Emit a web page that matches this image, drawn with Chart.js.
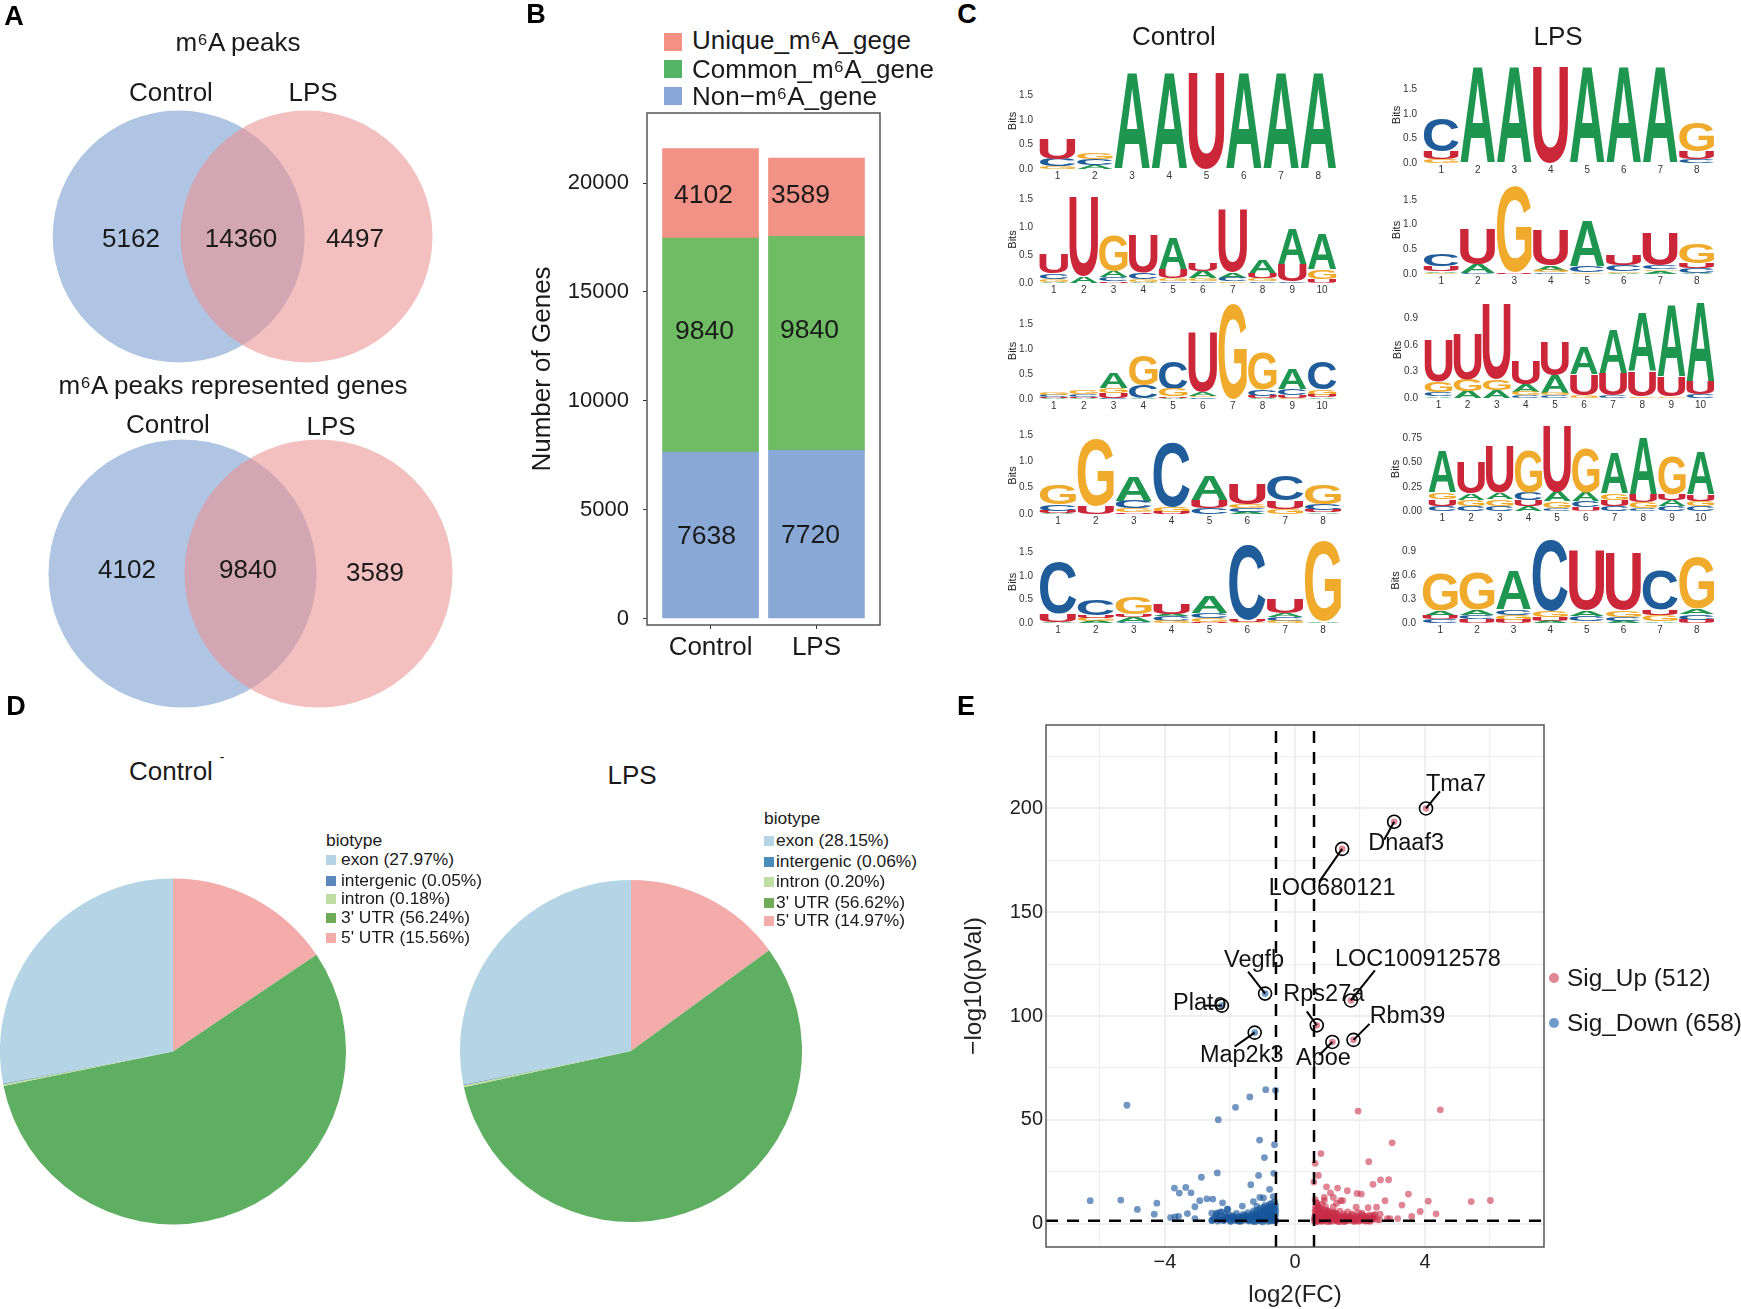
<!DOCTYPE html>
<html><head><meta charset="utf-8">
<style>
html,body{margin:0;padding:0;background:#fff;width:1741px;height:1309px;overflow:hidden;font-family:"Liberation Sans",Arial,sans-serif;color:#1a1a1a}
canvas{position:absolute}
.t{position:absolute;white-space:nowrap;transform:translate(-50%,-50%);line-height:1}
.l{position:absolute;white-space:nowrap;transform:translateY(-50%);line-height:1}
.s{position:absolute}
</style>
<script src="https://cdn.jsdelivr.net/npm/chart.js@4"></script>
</head><body>
<script>
/* ---------- Panel A ---------- */
const vennPeaks = [5162, 14360, 4497];
const vennGenes = [4102, 9840, 3589];
/* ---------- Panel B ---------- */
const barGroups = ["Control", "LPS"];
const barTicks = [0, 5000, 10000, 15000, 20000];
const nonGene = [7638, 7720];
const commonGene = [9840, 9840];
const uniqueGene = [4102, 3589];
/* ---------- Panel C: each position lists letters bottom to top with bits ---------- */
const logoCtrl1 = [[['G',.05],['C',.15],['U',.41]],[['A',.08],['C',.12],['G',.13]],[['A',1.95]],[['A',1.95]],[['U',1.95]],[['A',1.95]],[['A',1.95]],[['A',1.95]]];
const logoCtrl2 = [[['A',.02],['G',.05],['C',.1],['U',.35]],[['A',.12],['U',1.4]],[['U',.03],['C',.07],['A',.11],['G',.62]],[['A',.02],['G',.05],['C',.11],['U',.68]],[['C',.03],['G',.05],['U',.15],['A',.58]],[['C',.03],['G',.05],['A',.13],['U',.13]],[['G',.03],['C',.06],['A',.1],['U',1.1]],[['C',.03],['G',.05],['U',.08],['A',.25]],[['C',.03],['U',.3],['A',.62]],[['U',.07],['G',.17],['A',.61]]];
const logoCtrl3 = [[['A',.01],['U',.02],['C',.05],['G',.05]],[['A',.01],['U',.03],['C',.06],['G',.09]],[['C',.01],['U',.1],['G',.1],['A',.3]],[['A',.01],['C',.26],['G',.6]],[['A',.02],['U',.03],['G',.15],['C',.55]],[['C',.03],['G',.03],['A',.08],['U',1.2]],[['G',1.9]],[['A',.01],['U',.04],['C',.14],['G',.74]],[['G',.02],['U',.05],['C',.13],['A',.42]],[['A',.03],['U',.05],['G',.11],['C',.55]]];
const logoCtrl4 = [[['A',.02],['U',.04],['C',.12],['G',.38]],[['U',.15],['G',1.28]],[['U',.03],['G',.08],['C',.14],['A',.45]],[['U',.04],['G',.1],['C',1.22]],[['C',.12],['U',.15],['A',.45]],[['A',.04],['C',.07],['G',.08],['U',.38]],[['G',.1],['U',.15],['C',.47]],[['A',.03],['U',.04],['C',.12],['G',.36]]];
const logoCtrl5 = [[['A',.02],['U',.17],['C',1.1]],[['A',.04],['G',.07],['U',.05],['C',.33]],[['C',.03],['A',.1],['U',.05],['G',.37]],[['G',.04],['C',.1],['A',.05],['U',.22]],[['U',.02],['G',.08],['C',.1],['A',.34]],[['G',.02],['U',.05],['C',1.58]],[['G',.04],['C',.08],['A',.08],['U',.3]],[['A',.03],['G',1.7]]];
const logoLps1 = [[['G',.08],['U',.15],['C',.66]],[['A',1.95]],[['A',1.95]],[['U',1.95]],[['A',1.95]],[['A',1.95]],[['A',1.95]],[['C',.08],['U',.15],['G',.58]]];
const logoLps2 = [[['G',.03],['A',.03],['U',.1],['C',.25]],[['C',.02],['A',.18],['U',.72]],[['U',.03],['G',1.74]],[['C',.03],['G',.04],['A',.1],['U',.7]],[['G',.03],['C',.13],['A',.92]],[['A',.02],['G',.03],['C',.13],['U',.2]],[['A',.06],['G',.03],['C',.08],['U',.66]],[['A',.02],['C',.1],['U',.1],['G',.4]]];
const logoLps3 = [[['A',.02],['C',.05],['G',.12],['U',.47]],[['A',.08],['G',.13],['U',.52]],[['A',.09],['G',.12],['U',.86]],[['C',.03],['G',.04],['A',.08],['U',.27]],[['C',.03],['G',.03],['A',.2],['U',.38]],[['G',.03],['U',.24],['A',.3]],[['C',.03],['U',.25],['A',.49]],[['G',.02],['U',.28],['A',.66]],[['G',.02],['U',.22],['A',.81]],[['C',.04],['U',.15],['A',.89]]];
const logoLps4 = [[['C',.05],['U',.07],['G',.07],['A',.43]],[['C',.05],['G',.06],['A',.07],['U',.32]],[['C',.05],['G',.07],['A',.07],['U',.48]],[['A',.05],['U',.06],['C',.08],['G',.43]],[['C',.03],['G',.07],['A',.1],['U',.68]],[['U',.04],['C',.06],['A',.09],['G',.47]],[['C',.05],['U',.06],['G',.07],['A',.41]],[['C',.03],['G',.06],['U',.08],['A',.58]],[['C',.05],['A',.06],['U',.06],['G',.39]],[['C',.05],['G',.05],['U',.07],['A',.44]]];
const logoLps5 = [[['C',.05],['U',.04],['A',.07],['G',.47]],[['U',.05],['C',.05],['A',.07],['G',.47]],[['U',.04],['G',.06],['C',.07],['A',.49]],[['A',.03],['U',.04],['G',.08],['C',.9]],[['G',.02],['C',.07],['A',.07],['U',.75]],[['A',.03],['C',.05],['G',.08],['U',.71]],[['A',.02],['G',.08],['U',.07],['C',.5]],[['U',.04],['C',.07],['A',.07],['G',.64]]];
const logoTicks05 = [0, .5, 1, 1.5];
const logoTicks03 = [0, .3, .6, .9];
const logoTicks25 = [0, .25, .5, .75];
/* ---------- Panel D ---------- */
const pieOrder = ["5' UTR", "3' UTR", "intron", "intergenic", "exon"];
const pieControl = [15.56, 56.24, 0.18, 0.05, 27.97];
const pieLps = [14.97, 56.62, 0.20, 0.06, 28.15];
/* ---------- Panel E ---------- */
const volUpX = [1.94,4.47,2.99,2.27,.8,.62,.72,.58,.97,1.31,1.61,1.09,1.91,2.04,2.4,2.63,2.88,1.18,.9,3.49,2.77,4.1,5.42,6.01,3.29,3.85,4.34,3.59,3.16,2.92,2.84,2.51,2.25,1.88,1.4,1.47,1.28,1.18,.9,.62,.67,2.62,2.43,2.6,
.6,.61,.62,.63,.64,.65,.66,.67,.68,.7,.71,.73,.74,.76,.77,.79,.8,.82,.83,.85,.87,.88,.9,.92,.94,.96,.98,1,1.02,1.04,1.07,1.1,1.13,1.16,1.19,1.22,1.25,1.28,1.31,1.35,1.38,1.42,1.46,1.5,1.54,1.58,1.62,1.66,1.7,1.74,1.78,1.82,1.86,1.9,1.94,1.98,2.02,2.06,2.1,2.14,2.18,2.22,2.28,2.34,2.4,2.46,2.52,
.6,.63,.66,.7,.74,.78,.83,.88,.93,.99,1.05,1.11,1.17,1.24,1.3,1.37,1.44,1.52,1.6,1.68,1.76,1.84,1.92,2,2.08,2.16,2.24,2.32,2.42,
.62,.69,.75,.81,.86,.95,1.01,1.08,1.15,1.21,1.27,1.34,1.41,1.49,1.56,1.64,1.72,1.8,1.88,1.96,2.04,2.12,2.2,2.3,2.38,.64,.72,.8,.91,1.03,1.14,1.26,1.39,1.53,1.67];
const volUpY = [54.2,54.8,38.9,29.8,33.7,29,23.2,20,17.7,17.1,15.8,14.8,14.5,14.2,18.9,21,21.1,12.6,12.6,14.2,11,10.8,10.6,11.1,8.9,5.8,4.7,3.4,2.4,2.3,2.3,7.9,7.6,7.9,11,11,9.8,8,11,11.5,9.8,4.5,3.9,1.8,
1.2,3.4,5.8,8.2,2.2,10.1,4.4,1,6.7,3,8.6,1.7,5,2.5,7.2,3.8,1.1,9.2,5.6,2.4,4.2,6.6,1.5,3.1,8,2.2,5,.9,3.6,6,1.9,4.4,2.8,1.2,3.4,5.2,2.1,3.9,1,2.6,6,1.7,3.3,4.7,1.3,2.4,5.6,3.1,1.6,4,2.3,1,3.3,2,5.2,1.4,3,5,1.9,3.6,1.2,2.7,4,1.6,3.1,4.4,1.9,
2.1,4.6,.8,3.5,6.1,1.4,3.2,5.1,2.3,4.1,1.4,2.9,5.4,1.8,4.2,.9,2.4,3.6,1.3,2.8,4.6,1.5,3.4,2.2,4.2,2.6,1.5,3.6,2.4,
2.7,1.4,4.9,2.9,1.2,6.4,3.7,1.1,4.9,2.4,1.5,3.3,2.1,1,3.5,1.8,2.9,1.3,2.5,1.1,2.2,1.3,2.8,1.1,2.1,6.8,7.9,4.3,3.1,5.7,3.3,4.9,3.1,1.1,2];
const volDownX = [-6.3,-5.36,-5.17,-4.85,-4.33,-4.25,-3.83,-3.71,-3.56,-3.36,-3.2,-3.69,-3.58,-3.31,-3.08,-3.08,-2.93,-2.88,-2.71,-2.53,-2.39,-2.36,-2.23,-1.83,-1.39,-.9,-.6,-1.09,-.63,-.94,-1.12,-.65,-1.36,-.78,-1.62,-2.07,-1.28,-1.08,-.97,-.67,-2.56,-2.4,-2.3,-2.56,
-2.5,-2.42,-2.38,-2.3,-2.25,-2.18,-2.12,-2.08,-2.03,-1.98,-1.94,-1.9,-1.84,-1.8,-1.76,-1.71,-1.68,-1.63,-1.6,-1.56,-1.52,-1.48,-1.45,-1.41,-1.38,-1.34,-1.31,-1.28,-1.25,-1.22,-1.19,-1.16,-1.13,-1.1,-1.08,-1.05,-1.03,-1,-.98,-.96,-.94,-.92,-.9,-.88,-.86,-.84,-.82,-.8,-.78,-.76,-.74,-.72,-.71,-.69,-.68,-.66,-.65,-.63,-.62,-.61,-.6,-.59,-.59,-.6,
-.65,-.7,-.75,-.8,-.85,-.9,-.95,-1,-1.05,-1.1,-1.15,-1.2,-1.26,-1.32,-1.4,-1.47,-1.55,-1.65,-1.75,-1.85,-1.95,-2.05,-2.15,-2.22,-2.32,-2.45,-2.55,
-.62,-.67,-.72,-.77,-.83,-.87,-.93,-.99,-1.04,-1.09,-1.14,-1.18,-1.23,-1.29,-1.36,-1.43,-1.5,-1.58,-1.67,-1.78,-1.88,-1.99,-2.1,-2.2,-2.35,-.64,-.73,-.81,-.89,-.97,-1.07,-1.17,-1.3,-1.44,-1.61,-1.73,-1.92,-2.14];
const volDownY = [11,11.3,57,6.8,4.5,9.8,2.9,17.1,14.7,17.4,14.8,3.2,3.5,4.8,8.1,2.4,11,22.3,11.9,11.8,24.4,50,10,56,61,64.5,64.2,40.2,38,31.8,23.2,24.2,18.7,16.5,8.4,6.9,10.6,12.6,12.3,13,5,5,5.5,1.5,
2.2,4.6,1.2,3.4,5.6,1.7,3.1,6.9,4.3,1.1,2.6,3.8,1.5,4.9,2.1,3.2,1,2.7,4.4,1.6,3.5,2.2,5.2,1.2,2.9,4.1,1.8,6.1,3.3,.9,2.4,5,1.4,3.7,7.2,2.1,4.6,.8,3,6,1.7,8.8,3.9,2.3,5.4,1.1,7.1,3.2,9.2,1.9,4.8,2.7,6.6,1.3,8.1,3.6,5.3,10.4,2.2,7.4,4.2,1.5,6,8.9,
2.8,3.7,6.9,5.1,3.4,6.5,4.4,2.4,6.2,1.9,3.2,4.4,1.5,3,2.8,3.9,2.7,1.9,3.2,2.4,3.3,2.2,4.5,2.5,1.9,3.2,1.5,
1.4,3.1,5.6,1.2,4.1,2.7,5.3,3.6,1.5,4.7,2.5,6.3,3.4,1.1,2.4,1.6,2.3,3.7,1.4,1.5,2.8,1.2,3.1,1.4,2.2,6.9,9.7,8.2,7.5,7.9,3.1,8.3,4.8,1.9,2.9,1.2,1.8,2.4];
const hlGenes = ["Tma7","Dnaaf3","LOC680121","Vegfb","Plato","LOC100912578","Rps27a","Rbm39","Apoe","Map2k3"];
const hlX = [4.03,3.05,1.45,-.92,-2.25,1.72,.67,1.8,1.15,-1.24];
const hlY = [200,193.6,180.5,110.8,105,107.5,95.5,88.5,87.5,92];
const volXTicks = [-6,-4,-2,0,2,4,6];
const volXLabels = [-4,0,4];
const volYTicks = [0,25,50,75,100,125,150,175,200,225];
const volYLabels = [0,50,100,150,200];

/* ---------- Layout / style (not data) ---------- */
const hlOffsets = [[30,-23.5,14,-17],[12,22,-10,18],[-10,40,-23,33],[-11,-33,-17,-22],[-22,-2,-18,0],[67,-41,24,-30],[7,-31,-10,-14],[54,-23,16,-16],[-9,17,-13,13],[-13,23,-20,14]];
const LETTER = {A:'#1F9650',C:'#1F5C99',G:'#F0AB2D',U:'#CC2739'};
const FONT = '"Liberation Sans", Arial, sans-serif';
Chart.defaults.animation = false;
Chart.defaults.font.family = FONT;
Chart.defaults.devicePixelRatio = 1;
Chart.defaults.plugins.legend.display = false;
Chart.defaults.plugins.tooltip.enabled = false;
Chart.defaults.events = [];
Chart.defaults.responsive = false;

const M = 40;
function place(area, W, H, cfg){
  const c = document.createElement('canvas');
  c.style.left = (area.l - W) + 'px';
  c.style.top = (area.t - M) + 'px';
  c.width = W + area.r - area.l + M;
  c.height = M + area.b - area.t + H;
  document.body.appendChild(c);
  cfg.options = cfg.options || {};
  cfg.options.maintainAspectRatio = false;
  cfg.options.layout = {padding:{top:M,right:M,left:0,bottom:0}};
  const sc = cfg.options.scales;
  if (sc) { sc.x.afterFit = s => { s.height = H; }; sc.y.afterFit = s => { s.width = W; }; }
  return new Chart(c.getContext('2d'), cfg);
}
function T(txt,x,y,size,extra){
  const d = document.createElement('div'); d.className='t'; d.textContent=txt;
  d.style.left=x+'px'; d.style.top=y+'px'; d.style.fontSize=size+'px';
  if(extra) Object.assign(d.style,extra);
  document.body.appendChild(d); return d;
}
function L(txt,x,y,size,extra){ const d=T(txt,x,y,size,extra); d.className='l'; return d; }
function S(x,y,w,h,col,round){
  const d=document.createElement('div'); d.className='s';
  Object.assign(d.style,{left:x+'px',top:y+'px',width:w+'px',height:h+'px',background:col,borderRadius:round?'50%':'0'});
  document.body.appendChild(d);
}
const frame = color => ({id:'frame',afterDraw(ch){const a=ch.chartArea,c=ch.ctx;c.save();c.strokeStyle=color;c.lineWidth=1.5;c.strokeRect(a.left,a.top,a.right-a.left,a.bottom-a.top);c.restore();}});

/* ---------- Panel A: Venn (scale units are page pixels) ---------- */
function venn(area, cx1, cx2, cy, r){
  const ch = place(area,0,0,{type:'bubble',
    data:{datasets:[
      {data:[{x:cx2,y:cy,r}],backgroundColor:'rgba(235,144,144,.58)',borderWidth:0},
      {data:[{x:cx1,y:cy,r}],backgroundColor:'#B0C5E3',borderWidth:0}
    ]},
    options:{clip:false,scales:{
      x:{type:'linear',display:false,min:0,max:1},
      y:{type:'linear',display:false,min:0,max:1,reverse:true}}}
  });
  const a = ch.chartArea, top = area.t - M;
  ch.options.scales.x.min = a.left + area.l; ch.options.scales.x.max = a.right + area.l;
  ch.options.scales.y.min = a.top + top; ch.options.scales.y.max = a.bottom + top;
  ch.update();
}
venn({l:0,t:60,r:500,b:400},178.7,306.5,236.5,126);
venn({l:0,t:400,r:500,b:740},182.5,318.5,573.5,134);
T('m⁶A peaks',238,42,26); T('Control',171,92,26); T('LPS',313,92,26);
T(vennPeaks[0],131,238,26); T(vennPeaks[1],241,238,26); T(vennPeaks[2],355,238,26);
T('m⁶A peaks represented genes',233,385,26); T('Control',168,424,26); T('LPS',331,426,26);
T(vennGenes[0],127,568.5,26); T(vennGenes[1],248,568.5,26); T(vennGenes[2],375,572,26);

/* ---------- Panel B: stacked bar ---------- */
const pairs = arr => arr.map((v,i)=>({x:i+1,y:v}));
const barLabels = {id:'barLabels',afterDatasetsDraw(ch){
  const c=ch.ctx; c.save(); c.font='26.5px '+FONT; c.fillStyle='#1a1a1a'; c.textAlign='center'; c.textBaseline='middle';
  const dx=[[-4,-6],[-6,-7],[-7,-16]], dy=[[2,1],[-13,-13],[2,-1]];
  ch.data.datasets.forEach((ds,k)=>{ch.getDatasetMeta(k).data.forEach((el,i)=>{
    c.fillText(String(ds.data[i].y), el.x+dx[k][i], (el.y+el.base)/2+dy[k][i]);});});
  c.restore();
}};
place({l:647,t:113,r:880,b:625},120,50,{type:'bar',
  data:{datasets:[
    {label:'Non-m⁶A_gene',data:pairs(nonGene),backgroundColor:'#8AA8D5',barThickness:96},
    {label:'Common_m⁶A_gene',data:pairs(commonGene),backgroundColor:'#6FBC64',barThickness:96},
    {label:'Unique_m⁶A_gege',data:pairs(uniqueGene),backgroundColor:'#F29185',barThickness:96}
  ]},
  options:{scales:{
    x:{type:'linear',stacked:true,offset:false,min:.4,max:2.6,afterBuildTicks:s=>{s.ticks=[1,2].map(value=>({value}));},
       ticks:{callback:v=>barGroups[v-1],font:{size:26},color:'#1a1a1a',padding:3,maxRotation:0},
       grid:{offset:false,drawOnChartArea:false,tickLength:4,tickColor:'#333'},border:{display:false}},
    y:{stacked:true,min:-300,max:23220,afterBuildTicks:s=>{s.ticks=barTicks.map(value=>({value}));},
       ticks:{font:{size:22},color:'#1a1a1a',padding:14,callback:v=>String(v)},
       grid:{drawOnChartArea:false,tickLength:4,tickColor:'#333'},border:{display:false},
       title:{display:true,text:'Number of Genes',font:{size:26},color:'#1a1a1a',padding:0}}
  }},
  plugins:[frame('#555'),barLabels]
});
S(664,33,18,18,'#F39185'); S(664,60,18,18,'#55B566'); S(664,87,18,18,'#87A8D6');
L('Unique_m⁶A_gege',692,40,26); L('Common_m⁶A_gene',692,69,26); L('Non−m⁶A_gene',692,96,26);

/* ---------- Panel C: sequence logos ---------- */
const glyphs = {id:'glyphs',afterDatasetsDraw(ch){
  const c=ch.ctx; c.save();
  ch.data.datasets.forEach((ds,k)=>{
    ch.getDatasetMeta(k).data.forEach(el=>{
      if(el.skip) return;
      const top=Math.min(el.y,el.base), h=Math.abs(el.base-el.y), w=el.width;
      if(!(h>0)) return;
      c.save();
      c.font='bold 200px '+FONT; c.textBaseline='alphabetic'; c.textAlign='left'; c.fillStyle=LETTER[ds.label];
      const m=c.measureText(ds.label);
      const gw=m.actualBoundingBoxLeft+m.actualBoundingBoxRight, gh=m.actualBoundingBoxAscent+m.actualBoundingBoxDescent;
      c.translate(el.x-w/2,top); c.scale(w/gw,h/gh);
      c.fillText(ds.label,m.actualBoundingBoxLeft,m.actualBoundingBoxAscent);
      c.restore();
    });
  });
  c.restore();
}};
function logo(positions, area, ymax, yticks, digits, W){
  const labels = positions.map((_,i)=>String(i+1));
  const datasets = ['A','C','G','U'].map(letter=>{
    const data=[];
    positions.forEach((stack,i)=>{ let cum=0; stack.forEach(([l,b])=>{ if(l===letter) data.push({x:labels[i],y:[cum,cum+b]}); cum+=b; }); });
    return {label:letter,data,backgroundColor:'rgba(0,0,0,0)',borderWidth:0,grouped:false,categoryPercentage:1,barPercentage:.955};
  });
  place(area,W||33,18,{type:'bar',data:{labels,datasets},
    options:{scales:{
      x:{type:'category',ticks:{font:{size:10},color:'#333',padding:1,maxRotation:0,autoSkip:false},grid:{display:false,drawTicks:false},border:{display:false}},
      y:{type:'linear',min:0,max:ymax,afterBuildTicks:s=>{s.ticks=yticks.map(value=>({value}));},
         ticks:{font:{size:10},color:'#333',padding:6,callback:v=>v.toFixed(digits)},grid:{display:false,drawTicks:false},border:{display:false},
         title:{display:true,text:'Bits',font:{size:11},color:'#222',padding:0}}
    }},plugins:[glyphs]});
}
logo(logoCtrl1,{l:1039,t:73,r:1337,b:169.5},1.96,logoTicks05,1);
logo(logoCtrl2,{l:1039,t:196,r:1337,b:283},1.55,logoTicks05,1);
logo(logoCtrl3,{l:1039,t:303,r:1337,b:399},1.92,logoTicks05,1);
logo(logoCtrl4,{l:1039,t:437,r:1342,b:514},1.46,logoTicks05,1);
logo(logoCtrl5,{l:1039,t:541,r:1342,b:623},1.74,logoTicks05,1);
logo(logoLps1,{l:1423,t:67,r:1715,b:163.5},1.96,logoTicks05,1);
logo(logoLps2,{l:1423,t:186,r:1715,b:274},1.78,logoTicks05,1);
logo(logoLps3,{l:1424,t:302,r:1715,b:398},1.09,logoTicks03,1);
logo(logoLps4,{l:1428,t:427,r:1715,b:511},.87,logoTicks25,2,39);
logo(logoLps5,{l:1422,t:538,r:1715,b:623},1.07,logoTicks03,1);
T('Control',1174,35.5,26); T('LPS',1558,35.5,26);

/* ---------- Panel D: pies ---------- */
const pieColors = ['#F4ACAA','#5FAF62','#C0DDA3','#5B87BC','#B5D5E6'];
function pie(data,area){
  const c = document.createElement('canvas');
  c.style.left = area.l+'px'; c.style.top = area.t+'px';
  c.width = area.r-area.l; c.height = area.b-area.t;
  document.body.appendChild(c);
  new Chart(c.getContext('2d'),{type:'pie',data:{labels:pieOrder,datasets:[{data,backgroundColor:pieColors,borderWidth:0}]},options:{maintainAspectRatio:false}});
}
pie(pieControl,{l:0,t:878,r:346,b:1225});
pie(pieLps,{l:460,t:879,r:802,b:1223});
T('Control',171,771,26); T('-',222,757,14); T('LPS',632,775,26);
function pieLegend(vals,x,yTitle,ys,gap,interCol){
  L('biotype',x,yTitle,17.4);
  const order=[4,3,2,1,0];
  const cols=['#B5D5E6',interCol,'#C0DDA3','#6FAB58','#F4ACAA'];
  order.forEach((idx,i)=>{
    S(x,ys[i]-5,10,10,cols[i]);
    L(pieOrder[idx]+' ('+vals[idx].toFixed(2)+'%)',x+gap,ys[i],17.4);
  });
}
pieLegend(pieControl,326,840.5,[860,880.5,899,918,938],15,'#5B87BC');
pieLegend(pieLps,764,819,[840.5,861.6,881.6,902.7,920.5],12,'#4A8DBB');

/* ---------- Panel E: volcano ---------- */
const zip=(xs,ys)=>xs.map((x,i)=>({x,y:ys[i]}));
const XR=7.66, YMIN=-11.3, YMAX=240.2, FCUT=.585, PCUT=1.3;
const hlLabels={id:'hlLabels',afterDatasetsDraw(ch){
  const c=ch.ctx,sx=ch.scales.x,sy=ch.scales.y; c.save();
  c.strokeStyle='#000'; c.lineWidth=2; c.fillStyle='#111'; c.font='23.5px '+FONT; c.textAlign='center'; c.textBaseline='middle';
  hlGenes.forEach((g,i)=>{
    const px=sx.getPixelForValue(hlX[i]),py=sy.getPixelForValue(hlY[i]),o=hlOffsets[i];
    c.beginPath();c.moveTo(px,py);c.lineTo(px+o[2],py+o[3]);c.stroke();
    c.fillText(g,px+o[0],py+o[1]);
  });
  c.restore();
}};
const isUp=i=>hlX[i]>0;
const dash=(xs,ys)=>({type:'line',data:zip(xs,ys),borderColor:'#000',borderWidth:2.5,borderDash:[12,9],pointRadius:0,fill:false});
place({l:1046,t:725,r:1544,b:1247},86,63,{type:'scatter',
  data:{datasets:[
    dash([-FCUT,-FCUT],[YMIN,YMAX]),
    dash([FCUT,FCUT],[YMIN,YMAX]),
    dash([-XR,XR],[PCUT,PCUT]),
    {data:zip(hlX,hlY),pointRadius:3.3,backgroundColor:hlX.map((_,i)=>isUp(i)?'#E08796':'#6F9BCB'),borderWidth:0},
    {data:zip(hlX,hlY),pointRadius:6.5,backgroundColor:'#fff',borderColor:'#000',borderWidth:1.6},
    {data:zip(volUpX,volUpY),pointRadius:3.4,backgroundColor:'rgba(200,45,70,.58)',borderWidth:0},
    {data:zip(volDownX,volDownY),pointRadius:3.4,backgroundColor:'rgba(25,85,155,.62)',borderWidth:0}
  ]},
  options:{scales:{
    x:{type:'linear',min:-XR,max:XR,afterBuildTicks:s=>{s.ticks=volXTicks.map(value=>({value}));},
       ticks:{callback:v=>volXLabels.includes(v)?String(v).replace('-','−'):'',font:{size:20},color:'#222',padding:3,maxRotation:0,autoSkip:false},
       grid:{color:'#EFEFEF',lineWidth:c=>volXLabels.includes(c.tick.value)?2:1.2,drawTicks:false},border:{display:false},
       title:{display:true,text:'log2(FC)',font:{size:24},color:'#222',padding:0}},
    y:{type:'linear',min:YMIN,max:YMAX,afterBuildTicks:s=>{s.ticks=volYTicks.map(value=>({value}));},
       ticks:{callback:v=>volYLabels.includes(v)?String(v):'',font:{size:20},color:'#222',padding:3,autoSkip:false},
       grid:{color:'#EFEFEF',lineWidth:c=>volYLabels.includes(c.tick.value)?2:1.2,drawTicks:false},border:{display:false},
       title:{display:true,text:'−log10(pVal)',font:{size:24.5},color:'#222',padding:0}}
  }},
  plugins:[frame('#555'),hlLabels]
});
S(1549,973,10,10,'#E08796',true); S(1549,1018,10,10,'#6F9BCB',true);
L('Sig_Up (512)',1567,978,24.4); L('Sig_Down (658)',1567,1023,24.4);

/* ---------- Panel letters ---------- */
[['A',14,16],['B',536,14],['C',967,14],['D',16,706],['E',966,706]].forEach(([s,x,y])=>T(s,x,y,27,{fontWeight:'bold',color:'#000'}));
</script>
</body></html>
